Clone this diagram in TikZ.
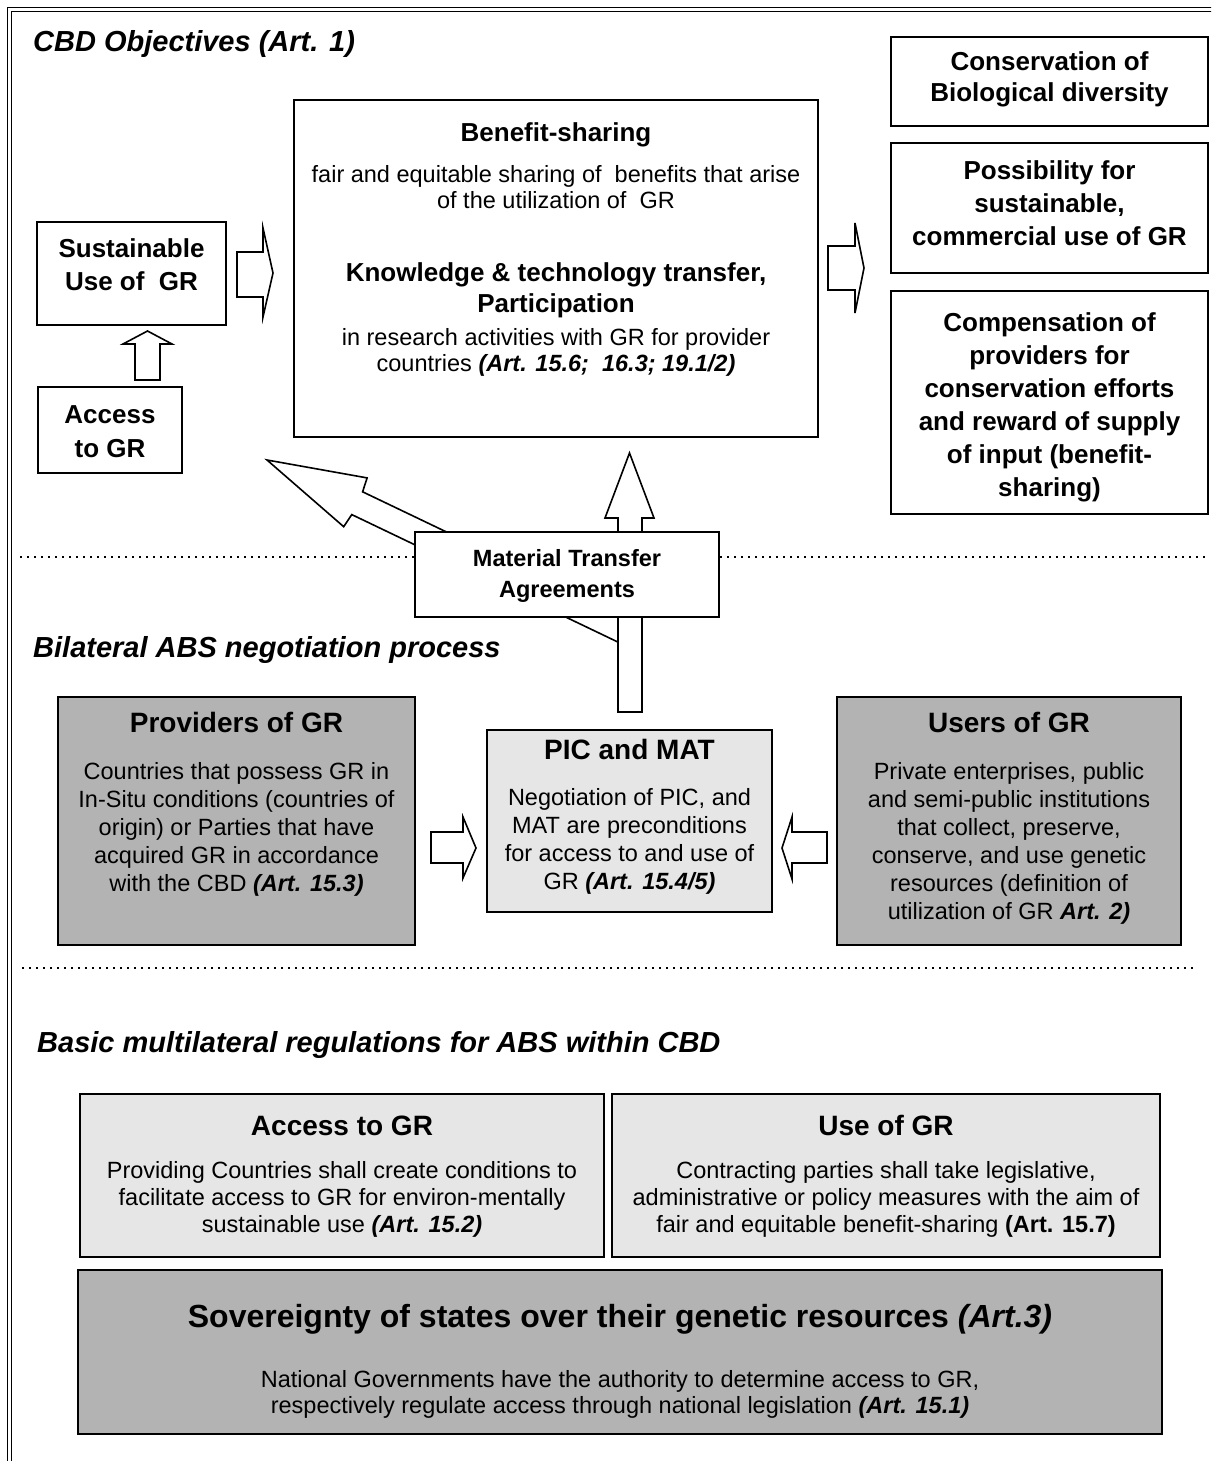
\documentclass[tikz,border=0pt]{standalone}
\usepackage{fontspec}
\setmainfont{Liberation Sans}
\definecolor{dkgray}{HTML}{B3B3B3}
\definecolor{ltgray}{HTML}{E6E6E6}
\newcommand\artref[1]{\textbf{\textit{#1}}}
\begin{document}
\begin{tikzpicture}[x=1pt,y=-1pt,
  box/.style={draw, line width=1.8pt, inner sep=0pt, outer sep=0pt, anchor=north west},
  body/.style={font=\fontsize{23.5}{27}\selectfont, anchor=base, inner sep=0pt},
  bhead/.style={font=\fontsize{26}{30}\selectfont\bfseries, anchor=base, inner sep=0pt},
  mhead/.style={font=\fontsize{23.5}{27}\selectfont\bfseries, anchor=base, inner sep=0pt},
  bighead/.style={font=\fontsize{28}{32}\selectfont\bfseries, anchor=base, inner sep=0pt},
  shead/.style={font=\fontsize{32}{36}\selectfont\bfseries, anchor=base, inner sep=0pt},
  sectitle/.style={font=\fontsize{29}{34}\selectfont\bfseries\itshape, anchor=base west, inner sep=0pt},
  blockarrow/.style={draw, fill=white, line width=1.6pt, line join=miter},
  dotline/.style={line width=2.4pt, dash pattern=on 2.4pt off 4.6pt},
  frame/.style={line width=1.4pt}
]
\useasboundingbox (0,0) rectangle (1211,1461);
\clip (0,0) rectangle (1211,1461);
\fill[white] (0,0) rectangle (1211,1461);
% outer double frame
\draw[frame] (7.5,7.5) rectangle (1240,1490);
\draw[frame] (11.5,11.5) rectangle (1236,1486);

% ---------- Section 1 ----------
\node[sectitle] (title1) at (33,52) {CBD Objectives (Art. 1)};

\draw[dotline] (20,557) -- (1208,557);

\node[box, minimum width=524pt, minimum height=337pt] (benefit) at (294,100) {};
\node[bhead] (b0) at (556,142) {Benefit-sharing};
\node[body] (b1) at (556,182) {fair and equitable sharing of~ benefits that arise};
\node[body] (b2) at (556,208) {of the utilization of~ GR};
\node[bhead] (b3) at (556,281) {Knowledge \& technology transfer,};
\node[bhead] (b4) at (556,312) {Participation};
\node[body] (b5) at (556,345) {in research activities with GR for provider};
\node[body] (b6) at (556,371) {countries \artref{(Art. 15.6;~ 16.3; 19.1/2)}};

\node[box, minimum width=189pt, minimum height=103pt] (sust) at (37,222) {};
\node[bhead] (s1) at (131.5,257) {Sustainable};
\node[bhead] (s2) at (131.5,290) {Use of~ GR};

\node[box, minimum width=144pt, minimum height=86pt] (access) at (38,387) {};
\node[bhead] (a1) at (110,423) {Access};
\node[bhead] (a2) at (110,457) {to GR};

\node[box, minimum width=317pt, minimum height=89pt] (cons) at (891,37) {};
\node[bhead] (c1) at (1049.5,71) {Conservation of};
\node[bhead] (c2) at (1049.5,102) {Biological diversity};

\node[box, minimum width=317pt, minimum height=130pt] (poss) at (891,143) {};
\node[bhead] (p1) at (1049.5,179) {Possibility for};
\node[bhead] (p2) at (1049.5,212) {sustainable,};
\node[bhead] (p3) at (1049.5,245) {commercial use of GR};

\node[box, minimum width=317pt, minimum height=223pt] (comp) at (891,291) {};
\node[bhead] (k1) at (1049.5,331) {Compensation of};
\node[bhead] (k2) at (1049.5,364) {providers for};
\node[bhead] (k3) at (1049.5,397) {conservation efforts};
\node[bhead] (k4) at (1049.5,430) {and reward of supply};
\node[bhead] (k5) at (1049.5,463) {of input (benefit-};
\node[bhead] (k6) at (1049.5,496) {sharing)};

% block arrows section 1
\draw[blockarrow] (237,252) -- (263,252) -- (263,228) -- (273,273) -- (263,317) -- (263,297) -- (237,297) -- cycle;
\draw[blockarrow] (828,246) -- (855,246) -- (855,223) -- (864,268) -- (855,313) -- (855,290) -- (828,290) -- cycle;
\draw[blockarrow] (135,380) -- (135,344) -- (123,344) -- (147.5,331) -- (172,344) -- (160,344) -- (160,380) -- cycle;

% diagonal arrow (to benefit-sharing) and vertical arrow from PIC
\draw[blockarrow] (267,460) -- (367.1,477.9) -- (362.6,491.8) -- (618,614.1) -- (618,642.1) -- (351.8,514.6) -- (343.7,526.7) -- cycle;
\draw[blockarrow] (618,712) -- (618,518) -- (605,518) -- (629.5,453) -- (654,518) -- (642,518) -- (642,712) -- cycle;

\node[box, fill=white, minimum width=304pt, minimum height=85pt] (mta) at (415,532) {};
\node[mhead] (m1) at (567,566) {Material Transfer};
\node[mhead] (m2) at (567,597) {Agreements};

% ---------- Section 2 ----------
\node[sectitle] (title2) at (33,657) {Bilateral ABS negotiation process};

\node[box, fill=dkgray, minimum width=357pt, minimum height=248pt] (prov) at (58,697) {};
\node[bighead] (v0) at (236.5,732) {Providers of GR};
\node[body] (v1) at (236.5,779) {Countries that possess GR in};
\node[body] (v2) at (236.5,807) {In-Situ conditions (countries of};
\node[body] (v3) at (236.5,835) {origin) or Parties that have};
\node[body] (v4) at (236.5,863) {acquired GR in accordance};
\node[body] (v5) at (236.5,891) {with the CBD \artref{(Art. 15.3)}};

\node[box, fill=ltgray, minimum width=285pt, minimum height=182pt] (pic) at (487,730) {};
\node[bighead] (q0) at (629.5,759) {PIC and MAT};
\node[body] (q1) at (629.5,805) {Negotiation of PIC, and};
\node[body] (q2) at (629.5,833) {MAT are preconditions};
\node[body] (q3) at (629.5,861) {for access to and use of};
\node[body] (q4) at (629.5,889) {GR \artref{(Art. 15.4/5)}};

\node[box, fill=dkgray, minimum width=344pt, minimum height=248pt] (users) at (837,697) {};
\node[bighead] (u0) at (1009,732) {Users of GR};
\node[body] (u1) at (1009,779) {Private enterprises, public};
\node[body] (u2) at (1009,807) {and semi-public institutions};
\node[body] (u3) at (1009,835) {that collect, preserve,};
\node[body] (u4) at (1009,863) {conserve, and use genetic};
\node[body] (u5) at (1009,891) {resources (definition of};
\node[body] (u6) at (1009,919) {utilization of GR \artref{Art. 2)}};

\draw[blockarrow] (431,832) -- (463,832) -- (463,817) -- (476,848) -- (463,878) -- (463,863) -- (431,863) -- cycle;
\draw[blockarrow] (827,832) -- (792,832) -- (792,817) -- (782,848) -- (792,879) -- (792,863) -- (827,863) -- cycle;

\draw[dotline] (22,968) -- (1197,968);

% ---------- Section 3 ----------
\node[sectitle] (title3) at (37,1052) {Basic multilateral regulations for ABS within CBD};

\node[box, fill=ltgray, minimum width=524pt, minimum height=163pt] (acc3) at (80,1094) {};
\node[bighead] (x0) at (342,1135) {Access to GR};
\node[body] (x1) at (342,1178) {Providing Countries shall create conditions to};
\node[body] (x2) at (342,1205) {facilitate access to GR for environ-mentally};
\node[body] (x3) at (342,1232) {sustainable use \artref{(Art. 15.2)}};

\node[box, fill=ltgray, minimum width=548pt, minimum height=163pt] (use3) at (612,1094) {};
\node[bighead] (y0) at (886,1135) {Use of GR};
\node[body] (y1) at (886,1178) {Contracting parties shall take legislative,};
\node[body] (y2) at (886,1205) {administrative or policy measures with the aim of};
\node[body] (y3) at (886,1232) {fair and equitable benefit-sharing \textbf{(Art. 15.7)}};

\node[box, fill=dkgray, minimum width=1084pt, minimum height=164pt] (sov) at (78,1270) {};
\node[shead] (z0) at (620,1327) {Sovereignty of states over their genetic resources \textit{(Art.3)}};
\node[body] (z1) at (620,1387) {National Governments have the authority to determine access to GR,};
\node[body] (z2) at (620,1413) {respectively regulate access through national legislation \artref{(Art. 15.1)}};
\end{tikzpicture}
\end{document}
